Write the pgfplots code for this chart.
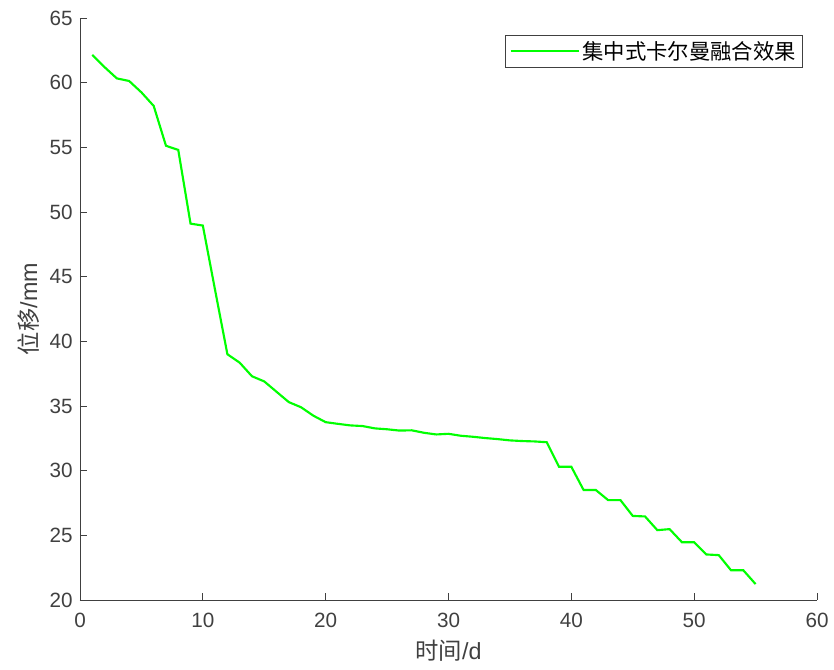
\documentclass[border=0pt]{standalone}
\usepackage{pgfplots}
\pgfplotsset{compat=1.18}
\usepackage{fontspec}
\setmainfont{Liberation Sans}
\newfontfamily\cjk{Noto Sans CJK SC}
\definecolor{axgray}{RGB}{64,64,64}
\definecolor{lgreen}{RGB}{0,255,0}
\begin{document}
\begin{tikzpicture}
\path[use as bounding box] (-60pt,-52.5pt) rectangle (565.5pt,450pt);
\begin{axis}[
  at={(0,0)}, anchor=south west,
  scale only axis,
  width=552.75pt, height=436.5pt,
  xmin=0, xmax=60, ymin=20, ymax=65,
  xtick={0,10,...,60}, ytick={20,25,...,65},
  axis x line*=bottom, axis y line*=left,
  axis line style={axgray, line width=0.6pt, -},
  tick style={axgray, line width=0.6pt},
  tick align=inside,
  major tick length=5pt,
  /pgf/number format/assume math mode=true,
  ticklabel style={font=\fontsize{15.5}{18}\selectfont, text=axgray},
  xticklabel style={yshift=-6pt},
  yticklabel style={xshift=-2pt},
  xlabel={{\cjk 时间}/d},
  ylabel={{\cjk 位移}/mm},
  label style={font=\fontsize{17.5}{20}\selectfont, text=axgray},
  xlabel style={yshift=-3pt},
  ylabel style={yshift=1pt},
  legend style={at={(1,1)}, anchor=north east, xshift=-10.5pt, yshift=-12.75pt,
    draw=axgray, line width=0.6pt, font=\fontsize{16}{19}\selectfont\cjk,
    inner xsep=3pt, inner ysep=2.5pt},
  legend cell align=left,
  legend image code/.code={\draw[#1] (0cm,0cm) -- (1.8cm,0cm);},
]
\addplot[lgreen, line width=1.6pt] coordinates {
(1,62.15) (2,61.2) (3,60.33) (4,60.13) (5,59.25) (6,58.2) (7,55.12) (8,54.8)
(9,49.1) (10,48.95) (11,43.95) (12,39.0) (13,38.35) (14,37.3) (15,36.9)
(16,36.1) (17,35.3) (18,34.9) (19,34.25) (20,33.75) (21,33.62) (22,33.5)
(23,33.45) (24,33.27) (25,33.2) (26,33.1) (27,33.12) (28,32.93) (29,32.8)
(30,32.85) (31,32.7) (32,32.62) (33,32.52) (34,32.44) (35,32.34) (36,32.29)
(37,32.26) (38,32.2) (39,30.3) (40,30.3) (41,28.5) (42,28.5) (43,27.72)
(44,27.72) (45,26.5) (46,26.46) (47,25.4) (48,25.48) (49,24.47) (50,24.47)
(51,23.52) (52,23.47) (53,22.3) (54,22.3) (55,21.23)
};
\addlegendentry{集中式卡尔曼融合效果}
\end{axis}
\end{tikzpicture}
\end{document}
